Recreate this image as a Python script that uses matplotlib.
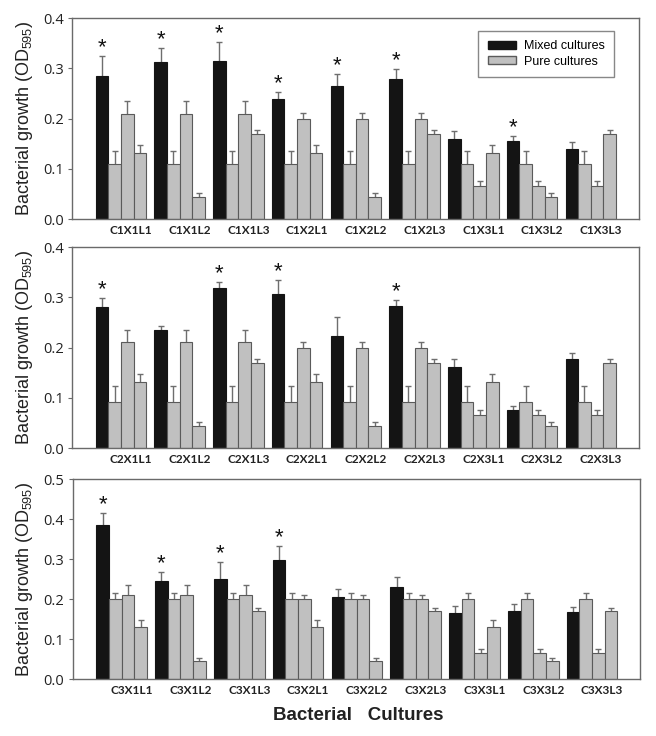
import numpy as np
import matplotlib
matplotlib.use('Agg')
import matplotlib.pyplot as plt
from matplotlib.patches import Patch

plt.rcParams['font.family'] = ['Liberation Sans', 'DejaVu Sans']
plt.rcParams['mathtext.fontset'] = 'custom'
plt.rcParams['mathtext.rm'] = 'Liberation Sans'
plt.rcParams['mathtext.it'] = 'Liberation Sans'

# values: each group = mixed culture + the three pure cultures (C, X, L)
groups1 = ['C1X1L1', 'C1X1L2', 'C1X1L3', 'C1X2L1', 'C1X2L2', 'C1X2L3', 'C1X3L1', 'C1X3L2', 'C1X3L3']
groups2 = ['C2X1L1', 'C2X1L2', 'C2X1L3', 'C2X2L1', 'C2X2L2', 'C2X2L3', 'C2X3L1', 'C2X3L2', 'C2X3L3']
groups3 = ['C3X1L1', 'C3X1L2', 'C3X1L3', 'C3X2L1', 'C3X2L2', 'C3X2L3', 'C3X3L1', 'C3X3L2', 'C3X3L3']

mixed1 = [0.285, 0.312, 0.315, 0.238, 0.264, 0.278, 0.159, 0.155, 0.139]
mixed1_err = [0.039, 0.029, 0.038, 0.014, 0.024, 0.021, 0.017, 0.011, 0.015]
mixed2 = [0.281, 0.235, 0.319, 0.306, 0.222, 0.282, 0.162, 0.076, 0.178]
mixed2_err = [0.017, 0.008, 0.012, 0.029, 0.038, 0.012, 0.015, 0.008, 0.011]
mixed3 = [0.384, 0.245, 0.250, 0.297, 0.205, 0.230, 0.165, 0.170, 0.168]
mixed3_err = [0.030, 0.023, 0.043, 0.035, 0.021, 0.025, 0.018, 0.017, 0.013]

pure_c1 = [0.109] * 9
pure_c1_err = [0.026] * 9
pure_c2 = [0.092] * 9
pure_c2_err = [0.031] * 9
pure_c3 = [0.200] * 9
pure_c3_err = [0.015] * 9

pure_x = [0.210, 0.210, 0.210, 0.199, 0.199, 0.199, 0.066, 0.066, 0.066]
pure_x_err = [0.024, 0.024, 0.024, 0.012, 0.012, 0.012, 0.010, 0.010, 0.010]
pure_l = [0.131, 0.044, 0.170, 0.131, 0.044, 0.170, 0.131, 0.044, 0.170]
pure_l_err = [0.016, 0.008, 0.008, 0.016, 0.008, 0.008, 0.016, 0.008, 0.008]

sig1 = [1, 1, 1, 1, 1, 1, 0, 1, 0]
sig2 = [1, 0, 1, 1, 0, 1, 0, 0, 0]
sig3 = [1, 1, 1, 1, 0, 0, 0, 0, 0]

BLACK = '#141414'
GREY = '#c0c0c0'
EDGE = '#5a5a5a'
ERR = '#6e6e6e'
SPINE = '#6a6a6a'


def draw_panel(ax, labels, mixed, mixed_err, pc, pc_err, sig, ymax):
    x = np.arange(len(labels))
    w = 0.215
    series = [(mixed, mixed_err, BLACK), (pc, pc_err, GREY),
              (pure_x, pure_x_err, GREY), (pure_l, pure_l_err, GREY)]
    for k, (vals, errs, col) in enumerate(series):
        pos = x - 1.5 * w + k * w
        ax.bar(pos, vals, w, color=col, edgecolor=EDGE if col == GREY else BLACK,
               linewidth=0.8, zorder=2)
        # symmetric error bars drawn below the bars so only the upper half shows
        ax.errorbar(pos, vals, yerr=errs, fmt='none', ecolor=ERR, elinewidth=1.0,
                    capsize=2.2, capthick=1.0, zorder=1)
    for i in range(len(labels)):
        if sig[i]:
            ax.annotate('*', (x[i] - 1.5 * w, mixed[i] + mixed_err[i]),
                        xytext=(0, -1.5), textcoords='offset points',
                        ha='center', va='bottom', fontsize=16, color='#111111')
    ax.set_xlim(-0.83, len(labels) - 1 + 0.82)
    ax.set_ylim(0, ymax)
    ax.set_yticks(np.arange(0, ymax + 0.001, 0.1))
    ax.set_yticklabels([f'{v:.1f}' for v in np.arange(0, ymax + 0.001, 0.1)],
                       fontsize=10.5, family=['Open Sans', 'DejaVu Sans'], color='#222222')
    ax.set_xticks(x + 0.17)
    ax.set_xticklabels(labels, fontsize=8.5, fontweight='bold',
                       family=['Lato', 'DejaVu Sans'], color='#222222')
    ax.tick_params(axis='x', length=0, pad=4)
    ax.tick_params(axis='y', length=3, width=0.8, color=SPINE, pad=3)
    for s in ax.spines.values():
        s.set_color(SPINE)
        s.set_linewidth(1.0)
    ax.set_ylabel('Bacterial growth (OD$_{595}$)', fontsize=13, color='#222222', labelpad=6)


fig = plt.figure(figsize=(6.56, 7.36), dpi=100)
ax1 = fig.add_axes([0.11, 0.7024, 0.864, 0.2731])
ax2 = fig.add_axes([0.11, 0.3913, 0.864, 0.2731])
ax3 = fig.add_axes([0.111, 0.0774, 0.865, 0.2717])

draw_panel(ax1, groups1, mixed1, mixed1_err, pure_c1, pure_c1_err, sig1, 0.4)
draw_panel(ax2, groups2, mixed2, mixed2_err, pure_c2, pure_c2_err, sig2, 0.4)
draw_panel(ax3, groups3, mixed3, mixed3_err, pure_c3, pure_c3_err, sig3, 0.5)

handles = [Patch(facecolor=BLACK, edgecolor=BLACK, label='Mixed cultures'),
           Patch(facecolor=GREY, edgecolor=EDGE, label='Pure cultures')]
leg = ax1.legend(handles=handles, loc='upper right', bbox_to_anchor=(0.956, 0.935),
                 borderaxespad=0, fontsize=9, frameon=True, fancybox=False,
                 handlelength=2.3, handleheight=0.6, borderpad=0.75, labelspacing=0.25,
                 handletextpad=0.6)
leg.get_frame().set_edgecolor(SPINE)
leg.get_frame().set_linewidth(1.0)

fig.text(358 / 656, 1 - 715 / 736, 'Bacterial   Cultures', ha='center', va='center',
         fontsize=13.5, fontweight='bold', color='#222222')

fig.savefig('out.png', dpi=100)
